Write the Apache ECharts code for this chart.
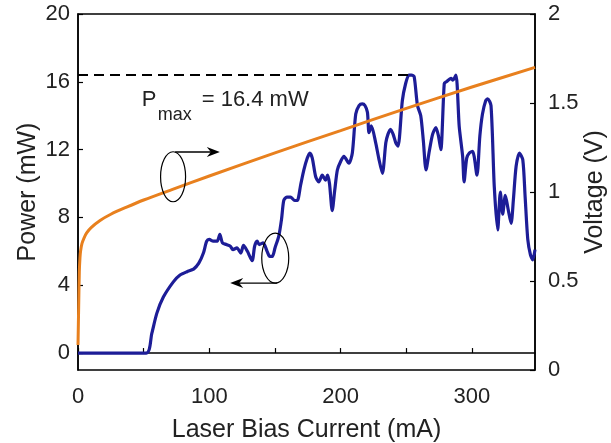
<!DOCTYPE html>
<html>
<head>
<meta charset="utf-8">
<script src="https://cdn.jsdelivr.net/npm/echarts@6/dist/echarts.min.js"></script>
<style>
html, body { margin: 0; padding: 0; background: #fff; }
#chart { width: 611px; height: 443px; }
</style>
</head>
<body>
<div id="chart"></div>
<script>
// optical power (left axis)
const current = [0, 52, 56.2, 60, 65, 72.6, 77.7, 83, 88, 92, 95.5, 98, 100, 103, 106, 108, 110, 113, 116, 118, 121, 124, 126, 129, 132.6, 134.5, 136.4, 138, 141, 144, 146, 148, 150, 152.9, 155, 156.7, 159, 161.8, 165, 167, 169.5, 172, 174.6, 176.5, 178.4, 181, 183.4, 186, 188.5, 190, 191.5, 193.6, 195.5, 197.5, 200, 202.5, 206.3, 208.9, 211.5, 214, 216.5, 218.5, 220.4, 221.6, 223.4, 226.7, 229, 231.8, 234.4, 236, 238, 240, 242, 243.7, 247, 249.5, 252, 254, 256, 258.5, 261, 263, 265, 267.5, 270, 272.5, 274.5, 276.3, 278.9, 280.5, 284, 285.5, 287.8, 290.3, 292.9, 294, 296, 298, 300.5, 303.8, 306, 308, 310.5, 312, 314.5, 317, 319.6, 321.6, 323.4, 325.4, 327.5, 329.8, 331.5, 333.6, 336.1, 338.7, 340.5, 342.5, 344.5, 346.3, 348];
const power = [0, 0, 1.16, 2.34, 3.3, 4.2, 4.6, 4.8, 4.95, 5.3, 5.9, 6.6, 6.7, 6.6, 6.6, 7.0, 6.5, 6.4, 6.3, 6.1, 6.2, 5.9, 6.35, 6.0, 5.45, 6.3, 6.6, 6.4, 6.5, 6.0, 5.7, 5.7, 6.2, 6.9, 7.9, 9.0, 9.2, 9.2, 9.0, 9.0, 9.9, 10.8, 11.5, 11.8, 11.5, 10.4, 10.1, 10.5, 10.2, 10.5, 10.0, 8.4, 9.6, 10.8, 11.3, 11.6, 11.2, 11.8, 14.1, 14.6, 14.7, 14.6, 14.2, 13.0, 13.4, 12.4, 11.5, 10.6, 12.4, 12.9, 13.2, 12.9, 12.4, 12.2, 14.9, 15.9, 16.4, 16.4, 16.3, 14.6, 14.0, 12.5, 10.8, 11.9, 12.9, 13.3, 12.8, 12.0, 15.9, 16.0, 16.2, 16.1, 16.4, 13.35, 11.6, 10.1, 11.5, 11.8, 11.9, 10.5, 12.8, 14.1, 14.9, 15.0, 14.6, 9.8, 7.26, 9.5, 8.2, 9.3, 8.5, 7.65, 9.0, 11.0, 11.8, 11.4, 9.2, 6.7, 5.8, 5.5, 6.1];

// forward voltage (right axis), orange trace
const currentV = [0, 0.5, 1, 1.5, 2, 3, 4.5, 6.6, 10, 16.8, 25, 37, 50, 72, 100, 150, 200, 250, 300, 348];
const voltage = [0.14, 0.35, 0.55, 0.63, 0.67, 0.71, 0.74, 0.77, 0.8, 0.84, 0.875, 0.915, 0.955, 1.015, 1.09, 1.22, 1.345, 1.47, 1.59, 1.70];

const powerTicks = [0, 4, 8, 12, 16, 20];
const currentTicks = [0, 50, 100, 150, 200, 250, 300];
const currentLabels = [0, 100, 200, 300];
const pMax = 16.4;
const pMaxAt = 255;

const font = 'Liberation Sans, Arial, Helvetica, sans-serif';
const ink = '#222';

var chart = echarts.init(document.getElementById('chart'));

var option = {
    animation: false,
    grid: {
        left: 78, right: 76, top: 14, bottom: 73, outerBoundsMode: 'none', containLabel: false,
        show: true, borderColor: '#000', borderWidth: 1.5, backgroundColor: 'transparent'
    },
    xAxis: {
        type: 'value', min: 0, max: 348,
        name: 'Laser Bias Current (mA)', nameLocation: 'middle', nameGap: 48, nameMoveOverlap: false,
        nameTextStyle: { fontFamily: font, fontSize: 25, color: ink },
        axisLine: { lineStyle: { color: '#000', width: 1.5 } },
        axisTick: { inside: true, length: 5, customValues: currentTicks, lineStyle: { color: '#000', width: 1.2 } },
        axisLabel: { customValues: currentLabels, margin: 16, fontFamily: font, fontSize: 22, color: ink },
        splitLine: { show: false }
    },
    yAxis: [{
        type: 'value', min: -1, max: 20,
        name: 'Power (mW)', nameLocation: 'middle', nameGap: 37, nameMoveOverlap: false,
        nameTextStyle: { fontFamily: font, fontSize: 25, color: ink },
        axisLine: { lineStyle: { color: '#000', width: 1.5 } },
        axisTick: { inside: true, length: 5, customValues: powerTicks, lineStyle: { color: '#000', width: 1.2 } },
        axisLabel: { customValues: powerTicks, margin: 8, fontFamily: font, fontSize: 22, color: ink },
        splitLine: { show: false }
    }, {
        type: 'value', min: 0, max: 2, interval: 0.5, position: 'right',
        name: 'Voltage (V)', nameLocation: 'middle', nameGap: 48, nameMoveOverlap: false,
        nameTextStyle: { fontFamily: font, fontSize: 25, color: ink },
        axisLine: { show: true, lineStyle: { color: '#000', width: 1.5 } },
        axisTick: { inside: true, length: 5, lineStyle: { color: '#000', width: 1.2 } },
        axisLabel: { margin: 13, fontFamily: font, fontSize: 22, color: ink },
        splitLine: { show: false }
    }],
    series: [{
        name: 'Power', type: 'line', yAxisIndex: 0,
        data: current.map((c, i) => [c, power[i]]),
        showSymbol: false, smooth: 0.25,
        lineStyle: { color: '#1d1d97', width: 3.2 },
        markLine: {
            silent: true, symbol: 'none', label: { show: false },
            lineStyle: { color: '#000', type: [10, 6], width: 2 },
            data: [[{ coord: [0, pMax] }, { coord: [pMaxAt, pMax] }]]
        },
        z: 3
    }, {
        name: 'Voltage', type: 'line', yAxisIndex: 1,
        data: currentV.map((c, i) => [c, voltage[i]]),
        showSymbol: false, smooth: 0.3,
        lineStyle: { color: '#e8801e', width: 3 },
        z: 4
    }]
};
chart.setOption(option);

// annotations: ellipses with arrows pointing to each curve's axis, plus Pmax label
function px(x, y) { return chart.convertToPixel({ xAxisIndex: 0, yAxisIndex: 0 }, [x, y]); }

function arrow(from, to) {
    var dx = to[0] - from[0] > 0 ? 1 : -1;
    var tip = to, len = 13, hw = 5;
    return [{
        type: 'line', shape: { x1: from[0], y1: from[1], x2: tip[0] - dx * 6, y2: tip[1] },
        style: { stroke: '#000', lineWidth: 1.3 }
    }, {
        type: 'polygon',
        shape: { points: [tip, [tip[0] - dx * len, tip[1] - hw], [tip[0] - dx * (len - 4), tip[1]], [tip[0] - dx * len, tip[1] + hw]] },
        style: { fill: '#000' }
    }];
}

var e1 = px(72.4, 10.4), e2 = px(150.2, 5.6);
var a1 = [px(74, 11.86), px(108, 11.86)];
var a2 = [px(151.7, 4.13), px(115.9, 4.13)];
var t = px(48.5, 14.5);

var graphics = [
    { type: 'ellipse', shape: { cx: e1[0], cy: e1[1], rx: 12.5, ry: 25 }, style: { fill: 'none', stroke: '#000', lineWidth: 1.2 } },
    { type: 'ellipse', shape: { cx: e2[0], cy: e2[1], rx: 13.5, ry: 25 }, style: { fill: 'none', stroke: '#000', lineWidth: 1.2 } }
].concat(arrow(a1[0], a1[1]), arrow(a2[0], a2[1]));

graphics.push(
    { type: 'text', x: t[0], y: t[1] + 4, style: { text: 'P', fontFamily: font, fontSize: 22, fill: ink, textVerticalAlign: 'bottom' } },
    { type: 'text', x: t[0] + 16, y: t[1] + 17, style: { text: 'max', fontFamily: font, fontSize: 18, fill: ink, textVerticalAlign: 'bottom' } },
    { type: 'text', x: t[0] + 60, y: t[1] + 4, style: { text: '= 16.4 mW', fontFamily: font, fontSize: 22, fill: ink, textVerticalAlign: 'bottom' } }
);

chart.setOption({ graphic: graphics.map(g => Object.assign({ z: 10 }, g)) });
</script>
</body>
</html>
